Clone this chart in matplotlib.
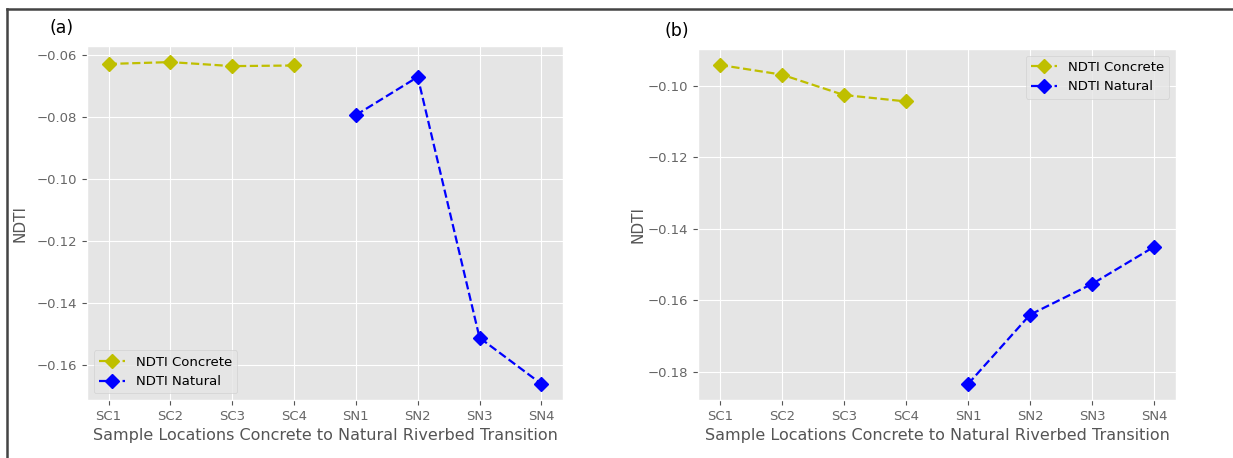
import matplotlib.pyplot as plt
from matplotlib.lines import Line2D

plt.style.use('ggplot')

sites = ['SC1', 'SC2', 'SC3', 'SC4', 'SN1', 'SN2', 'SN3', 'SN4']
concrete_sites = sites[:4]
natural_sites = sites[4:]

# panel (a)
ndti_concrete_a = [-0.0628, -0.0622, -0.0635, -0.0633]
ndti_natural_a = [-0.0793, -0.0670, -0.1512, -0.1661]

# panel (b)
ndti_concrete_b = [-0.0942, -0.0969, -0.1026, -0.1044]
ndti_natural_b = [-0.1834, -0.1640, -0.1554, -0.1450]

W, H = 1233, 458
fig = plt.figure(figsize=(W / 100, H / 100), dpi=100)
fig.patch.set_facecolor('white')

ax1 = fig.add_axes([87 / W, 1 - 400 / H, 476 / W, 354 / H])
ax2 = fig.add_axes([698 / W, 1 - 400 / H, 478 / W, 351 / H])


def draw(ax, conc, nat, loc):
    ax.plot(concrete_sites, conc, color='y', linestyle='--', marker='D',
            markersize=7, lw=1.6, label='NDTI Concrete')
    ax.plot(natural_sites, nat, color='b', linestyle='--', marker='D',
            markersize=7, lw=1.6, label='NDTI Natural')
    ax.set_xlabel('Sample Locations Concrete to Natural Riverbed Transition',
                  fontsize=11.5, color='#555555')
    ax.set_ylabel('NDTI', fontsize=11, color='#555555')
    ax.tick_params(labelsize=9.5, labelcolor='#666666')
    ax.legend(loc=loc, fontsize=9.5)


draw(ax1, ndti_concrete_a, ndti_natural_a, 'lower left')
draw(ax2, ndti_concrete_b, ndti_natural_b, 'upper right')
ax1.yaxis.set_label_coords(-0.125, 0.5)
ax2.yaxis.set_label_coords(-0.11, 0.5)

fig.text(62 / W, 1 - 28 / H, '(a)', ha='center', va='center', fontsize=12.5)
fig.text(677 / W, 1 - 31 / H, '(b)', ha='center', va='center', fontsize=12.5)

# outer frame (only top and left edges visible in the crop)
fig.add_artist(Line2D([7 / W, 1], [1 - 9 / H, 1 - 9 / H], color='#444444', lw=1.8))
fig.add_artist(Line2D([7 / W, 7 / W], [0, 1 - 9 / H], color='#444444', lw=1.8))

fig.savefig('out.png', dpi=100)
